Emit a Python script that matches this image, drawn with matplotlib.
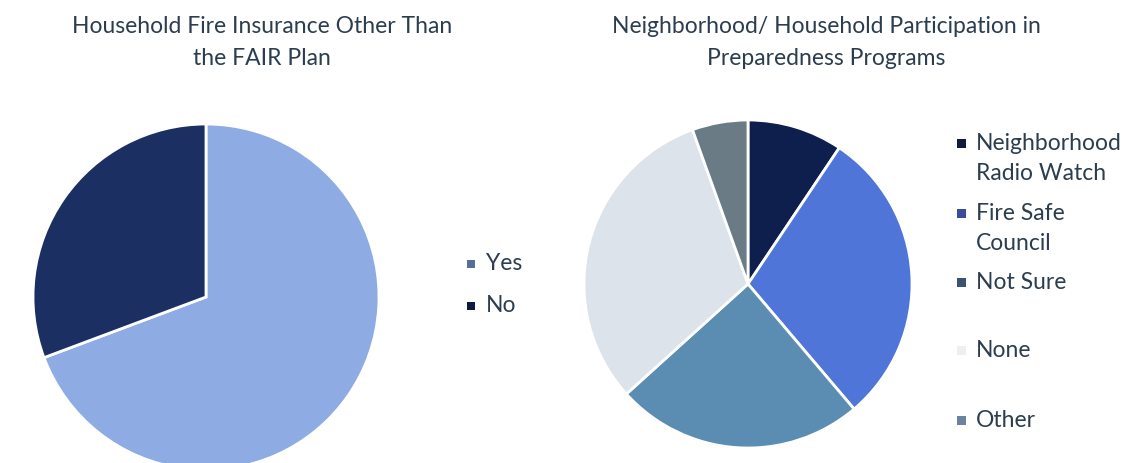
import numpy as np
import matplotlib.pyplot as plt
from matplotlib.patches import Rectangle

plt.rcParams['font.family'] = ['Lato', 'DejaVu Sans']

W, H = 1131, 463

# household insurance outside the FAIR plan
ins_labels = ["Yes", "No"]
ins_values = [69.3, 30.7]
ins_colors = ["#8eabe3", "#1c2f63"]
ins_key_colors = ["#566e99", "#0f1b3d"]

# participation in preparedness programs
prog_labels = ["Neighborhood\nRadio Watch", "Fire Safe\nCouncil", "Not Sure", "None", "Other"]
prog_values = [9.4, 29.4, 24.5, 31.2, 5.5]
prog_colors = ["#0e1f4d", "#4f75d8", "#5b8db3", "#dde3ea", "#6a7b86"]
prog_key_colors = ["#0f1a3d", "#3c4c9b", "#3c5271", "#edf0f3", "#6c82a0"]

text_color = "#2b3d4f"
fs_title = 16.5
fs_key = 16.5


def fx(x):
    return x / W


def fy(y):
    return 1 - y / H


def draw_pie(fig, cx, cy, r, values, colors):
    ax = fig.add_axes([fx(cx - r), fy(cy + r), 2 * r / W, 2 * r / H])
    ax.pie(values, colors=colors, startangle=90, counterclock=False,
           wedgeprops=dict(edgecolor='white', linewidth=2))
    # pie() pads the limits, pull them back to the unit circle
    ax.set_xlim(-1, 1)
    ax.set_ylim(-1, 1)
    ax.axis('off')
    return ax


def title(fig, cx, lines):
    for i, line in enumerate(lines):
        fig.text(fx(cx), fy(33 + 32 * i), line, fontsize=fs_title,
                 color=text_color, ha='center', va='baseline')


def key(fig, x, labels, colors, baselines, size):
    for lab, col, yb in zip(labels, colors, baselines):
        fig.add_artist(Rectangle((fx(x), fy(yb - 2)), size / W, size / H,
                                 transform=fig.transFigure, color=col, lw=0))
        for i, line in enumerate(lab.split("\n")):
            fig.text(fx(x + 19), fy(yb + 30 * i), line, fontsize=fs_key,
                     color=text_color, va='baseline', ha='left')


fig = plt.figure(figsize=(W / 100, H / 100), dpi=100, facecolor='white')

draw_pie(fig, 206, 297, 173, ins_values, ins_colors)
title(fig, 262, ["Household Fire Insurance Other Than", "the FAIR Plan"])
key(fig, 467, ins_labels, ins_key_colors, [270, 312], 8)

draw_pie(fig, 748, 284, 164, prog_values, prog_colors)
title(fig, 826, ["Neighborhood/ Household Participation in", "Preparedness Programs"])
key(fig, 957, prog_labels, prog_key_colors, [150, 220, 289, 357, 427], 9)

fig.savefig("out.png", dpi=100, facecolor='white')
